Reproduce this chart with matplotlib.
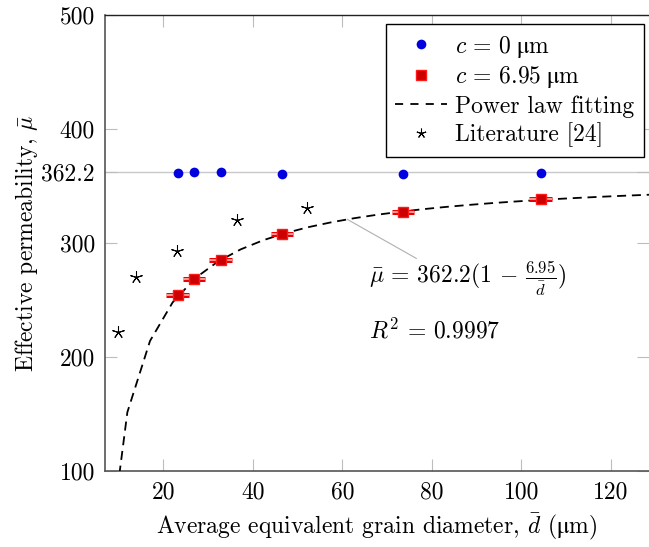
import numpy as np
import matplotlib
matplotlib.use("Agg")
import matplotlib.pyplot as plt
from matplotlib.lines import Line2D

plt.rcParams['font.family'] = ['cmr10', 'DejaVu Serif']
plt.rcParams['mathtext.fontset'] = 'cm'
plt.rcParams['axes.formatter.use_mathtext'] = True
plt.rcParams['axes.unicode_minus'] = False

# ---- data ----
d_sim = [23.2, 26.9, 32.8, 46.5, 73.6, 104.3]
mu_c0 = [361.5, 362.2, 362.2, 361.0, 360.4, 361.3]
mu_c695 = [254.6, 268.3, 285.3, 308.1, 327.6, 339.0]
d_err = [2.5, 2.5, 2.5, 2.5, 2.5, 2.5]

d_lit = [9.8, 13.9, 23.1, 36.5, 52.2]
mu_lit = [222.4, 270.1, 293.4, 320.4, 330.6]

mu_inf = 362.2
c_fit = 6.95

x_ticks = [20, 40, 60, 80, 100, 120]
y_ticks = [100, 200, 300, 362.2, 400, 500]
y_ticklabels = ['100', '200', '300', '362.2', '400', '500']

xlim = (6.9, 128.5)
ylim = (100, 500)

FS = 17

fig = plt.figure(figsize=(6.49, 5.47), dpi=100)
ax = fig.add_axes([0.1613, 0.1384, 1.0 - 0.1613, 0.972 - 0.1384])
ax.set_xlim(*xlim)
ax.set_ylim(*ylim)

# reference grid line at mu_inf
ax.axhline(mu_inf, color='#c8c8c8', lw=1.0, zorder=1)

# fitting curve (pgfplots-like sampling)
d_fit = np.linspace(xlim[0], xlim[1], 25)
mu_fit = mu_inf * (1 - c_fit / d_fit)
ax.plot(d_fit, mu_fit, color='black', lw=1.3, linestyle=(0, (5, 3.2)), zorder=3)

# circles c = 0
ax.plot(d_sim, mu_c0, 'o', color='#0000e0', markersize=7, markeredgewidth=0, zorder=5)

# squares c = 6.95 with horizontal error bars
ax.errorbar(d_sim, mu_c695, xerr=d_err, fmt='none', ecolor='#ee0000', elinewidth=3.6,
            capsize=0, zorder=4)
ax.errorbar(d_sim, mu_c695, xerr=d_err, fmt='none', ecolor='#ff9a9a', elinewidth=1.4,
            capsize=0, zorder=4)
ax.plot(d_sim, mu_c695, 's', markerfacecolor='#cc0000', markeredgecolor='#ff1a1a',
        markeredgewidth=1.0, markersize=7.5, zorder=6)

# literature stars
ax.plot(d_lit, mu_lit, linestyle='none', marker=(5, 2, 0), color='black',
        markersize=9, markeredgewidth=0.75, zorder=5)

# annotation
d_ann = 61.1
mu_ann = mu_inf * (1 - c_fit / d_ann)
ax.plot([d_ann, 76.5], [mu_ann, 286.8], color='#b0b0b0', lw=0.8, zorder=2)
ax.text(65.9, 269.5, r'$\bar{\mu}\,=\,362.2(1\,-\,\frac{6.95}{\bar{d}})$', fontsize=FS,
        ha='left', va='center')
ax.text(65.9, 223.3, r'$R^2\,=\,0.9997$', fontsize=FS, ha='left', va='center')

# ticks
ax.set_xticks(x_ticks)
ax.set_xticklabels([str(v) for v in x_ticks])
ax.set_yticks(y_ticks)
ax.set_yticklabels(y_ticklabels)
ax.tick_params(axis='both', which='both', direction='in', length=8.5, width=0.8,
               color='#bdbdbd', top=True, right=True, labelsize=FS, pad=7)

for s in ['left', 'bottom']:
    ax.spines[s].set_color('#555555')
    ax.spines[s].set_linewidth(1.2)
ax.spines['top'].set_color('#222222')
ax.spines['top'].set_linewidth(1.0)
ax.spines['right'].set_visible(False)

ax.set_xlabel(r'Average equivalent grain diameter, $\bar{d}$ $(\mathrm{μm})$', fontsize=FS)
ax.set_ylabel(r'Effective permeability, $\bar{\mu}$', fontsize=FS)
ax.xaxis.set_label_coords(0.5, -0.122)
ax.xaxis.label.set_verticalalignment('center')
ax.yaxis.set_label_coords(-0.1428, 0.5)
ax.yaxis.label.set_verticalalignment('center')

handles = [
    Line2D([], [], linestyle='none', marker='o', color='#0000e0', markersize=7, markeredgewidth=0),
    Line2D([], [], linestyle='none', marker='s', markerfacecolor='#cc0000',
           markeredgecolor='#ff1a1a', markersize=7),
    Line2D([], [], color='black', lw=1.3, linestyle=(0, (4.5, 4))),
    Line2D([], [], linestyle='none', marker=(5, 2, 0), color='black', markersize=7,
           markeredgewidth=0.75),
]
labels = [r'$c\,=\,0\;\mathrm{μm}$', r'$c\,=\,6.95\;\mathrm{μm}$', 'Power law fitting',
          'Literature [24]']
leg = ax.legend(handles, labels, loc='upper right', bbox_to_anchor=(0.9908, 0.9803),
                borderaxespad=0, fontsize=FS, frameon=True, fancybox=False,
                edgecolor='black', framealpha=1, handlelength=2.2, handletextpad=0.35,
                labelspacing=0.2, borderpad=0.4)
leg.get_frame().set_linewidth(1.0)
leg.set_zorder(10)

fig.savefig('out.png', dpi=100)
